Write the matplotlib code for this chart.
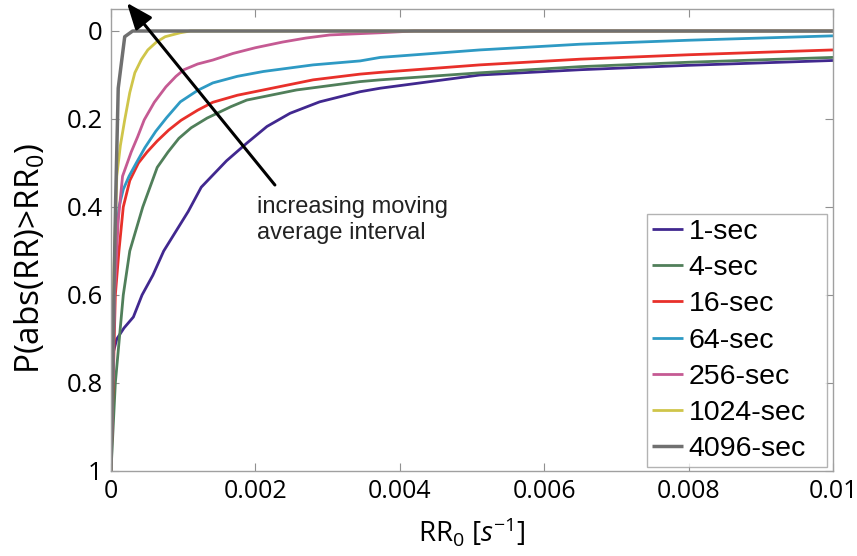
import matplotlib
matplotlib.use("Agg")
import matplotlib.pyplot as plt

plt.rcParams["mathtext.fontset"] = "custom"
plt.rcParams["mathtext.rm"] = "Open Sans"
plt.rcParams["mathtext.it"] = "Open Sans:italic"

# ---- data ----
labels = ["1-sec", "4-sec", "16-sec", "64-sec", "256-sec", "1024-sec", "4096-sec"]
colors = ["#41288f", "#507f5a", "#e8302a", "#2e9ac4", "#c55a93", "#cfc54a", "#707070"]

x_1s = [0, 0.00008, 0.00018, 0.00031, 0.00043, 0.00058, 0.00073, 0.0009, 0.00107, 0.00125,
        0.0016, 0.00188, 0.00216, 0.00248, 0.00289, 0.00345, 0.00373, 0.00511, 0.0065, 0.008, 0.01]
y_1s = [0.75, 0.70, 0.675, 0.65, 0.60, 0.555, 0.50, 0.455, 0.41, 0.355,
        0.295, 0.255, 0.217, 0.187, 0.161, 0.138, 0.130, 0.100, 0.088, 0.078, 0.067]

x_4s = [0, 0.00006, 0.00017, 0.00026, 0.00044, 0.00064, 0.00079, 0.00094, 0.00111, 0.00133,
        0.00166, 0.00188, 0.00257, 0.00345, 0.00373, 0.00511, 0.0065, 0.008, 0.01]
y_4s = [1.0, 0.8, 0.6, 0.5, 0.4, 0.31, 0.275, 0.244, 0.22, 0.198,
        0.172, 0.157, 0.134, 0.115, 0.111, 0.095, 0.081, 0.071, 0.060]

x_16s = [0, 0.00006, 0.00011, 0.00017, 0.00026, 0.00038, 0.0005, 0.00064, 0.0008, 0.00097,
         0.0012, 0.00141, 0.00175, 0.00211, 0.0028, 0.00345, 0.00373, 0.00511, 0.0065, 0.008, 0.01]
y_16s = [1.0, 0.6, 0.5, 0.4, 0.34, 0.30, 0.275, 0.25, 0.225, 0.203,
         0.18, 0.162, 0.146, 0.134, 0.111, 0.098, 0.094, 0.077, 0.064, 0.054, 0.043]

x_64s = [0, 0.00006, 0.00011, 0.00017, 0.00025, 0.00035, 0.00047, 0.00062, 0.00077, 0.00096,
         0.0012, 0.00141, 0.00175, 0.00211, 0.0028, 0.00345, 0.00373, 0.00511, 0.0065, 0.008, 0.01]
y_64s = [1.0, 0.5, 0.4, 0.36, 0.33, 0.30, 0.265, 0.228, 0.197, 0.161,
         0.135, 0.118, 0.103, 0.092, 0.077, 0.068, 0.060, 0.043, 0.030, 0.021, 0.011]

x_256s = [0, 0.00005, 0.0001, 0.00016, 0.00028, 0.00037, 0.00046, 0.0006, 0.00076, 0.0009,
          0.00101, 0.0012, 0.00141, 0.00169, 0.002, 0.00238, 0.0027, 0.00303, 0.00373, 0.0042, 0.01]
y_256s = [1.0, 0.6, 0.43, 0.33, 0.275, 0.24, 0.202, 0.162, 0.127, 0.103,
          0.088, 0.075, 0.066, 0.051, 0.038, 0.025, 0.016, 0.009, 0.004, 0.0, 0.0]

x_1024s = [0, 0.00004, 0.00008, 0.00013, 0.00019, 0.00026, 0.00033, 0.00042, 0.00051, 0.00063,
           0.00075, 0.00096, 0.0011, 0.01]
y_1024s = [1.0, 0.55, 0.33, 0.26, 0.202, 0.14, 0.095, 0.065, 0.043, 0.025,
           0.013, 0.004, 0.0, 0.0]

x_4096s = [0, 0.00004, 0.000065, 0.0001, 0.00019, 0.0003, 0.01]
y_4096s = [1.0, 0.6, 0.38, 0.13, 0.013, 0.0, 0.0]

series_x = [x_1s, x_4s, x_16s, x_64s, x_256s, x_1024s, x_4096s]
series_y = [y_1s, y_4s, y_16s, y_64s, y_256s, y_1024s, y_4096s]

x_ticks = [0, 0.002, 0.004, 0.006, 0.008, 0.01]
x_ticklabels = ["0", "0.002", "0.004", "0.006", "0.008", "0.01"]
y_ticks = [0, 0.2, 0.4, 0.6, 0.8, 1]
y_ticklabels = ["0", "0.2", "0.4", "0.6", "0.8", "1"]

annotation_text = "increasing moving\naverage interval"

# ---- figure ----
W, H = 857, 556
fig = plt.figure(figsize=(W / 100, H / 100), dpi=100)
ax = fig.add_axes([111 / W, 1 - 471 / H, (833 - 111) / W, (471 - 9) / H])

for xs, ys, c, lab in zip(series_x, series_y, colors, labels):
    lw = 2.5 if lab == "4096-sec" else 2.0
    ax.plot(xs, ys, color=c, lw=lw, label=lab, solid_capstyle="butt", solid_joinstyle="round")

ax.set_xlim(0, 0.01)
ax.set_ylim(1, -0.05)

tick_font = "Open Sans"
ax.set_xticks(x_ticks)
ax.set_xticklabels(x_ticklabels, fontsize=18, family=tick_font)
ax.set_yticks(y_ticks)
ax.set_yticklabels(y_ticklabels, fontsize=18.5, family=tick_font)
ax.tick_params(direction="in", length=6, width=0.8, color="#909090",
               top=True, right=True, pad=6)
for s in ax.spines.values():
    s.set_color("#a0a0a0")
    s.set_linewidth(1.0)

ax.set_xlabel("RR$_0$ [$s^{-1}$]", fontsize=20, family=tick_font, labelpad=8)
ax.set_ylabel("P(abs(RR)>RR$_0$)", fontsize=24, family=tick_font)
ax.yaxis.set_label_coords(-0.088, 0.461)

leg = ax.legend(loc="lower left", bbox_to_anchor=(0.7424, 0.0087, 0.2493, 0.5584),
                mode="expand", borderaxespad=0,
                prop={"family": "Liberation Sans", "size": 20.5}, frameon=True, fancybox=False,
                handlelength=1.12, handletextpad=0.18, labelspacing=0.36, borderpad=0.16)
leg.get_frame().set_edgecolor("#a0a0a0")
leg.get_frame().set_linewidth(1.0)

ax.annotate("", xy=(0.00022, -0.064), xytext=(0.00227, 0.35),
            arrowprops=dict(arrowstyle="-|>,head_length=1.0,head_width=0.4", lw=2.2,
                            color="black", shrinkA=0, shrinkB=0, mutation_scale=16),
            annotation_clip=False)
ax.text(0.00202, 0.43, annotation_text, fontsize=17, family="Liberation Sans",
        ha="left", va="center", color="#222222", linespacing=1.23)

fig.savefig("out.png", dpi=100)
